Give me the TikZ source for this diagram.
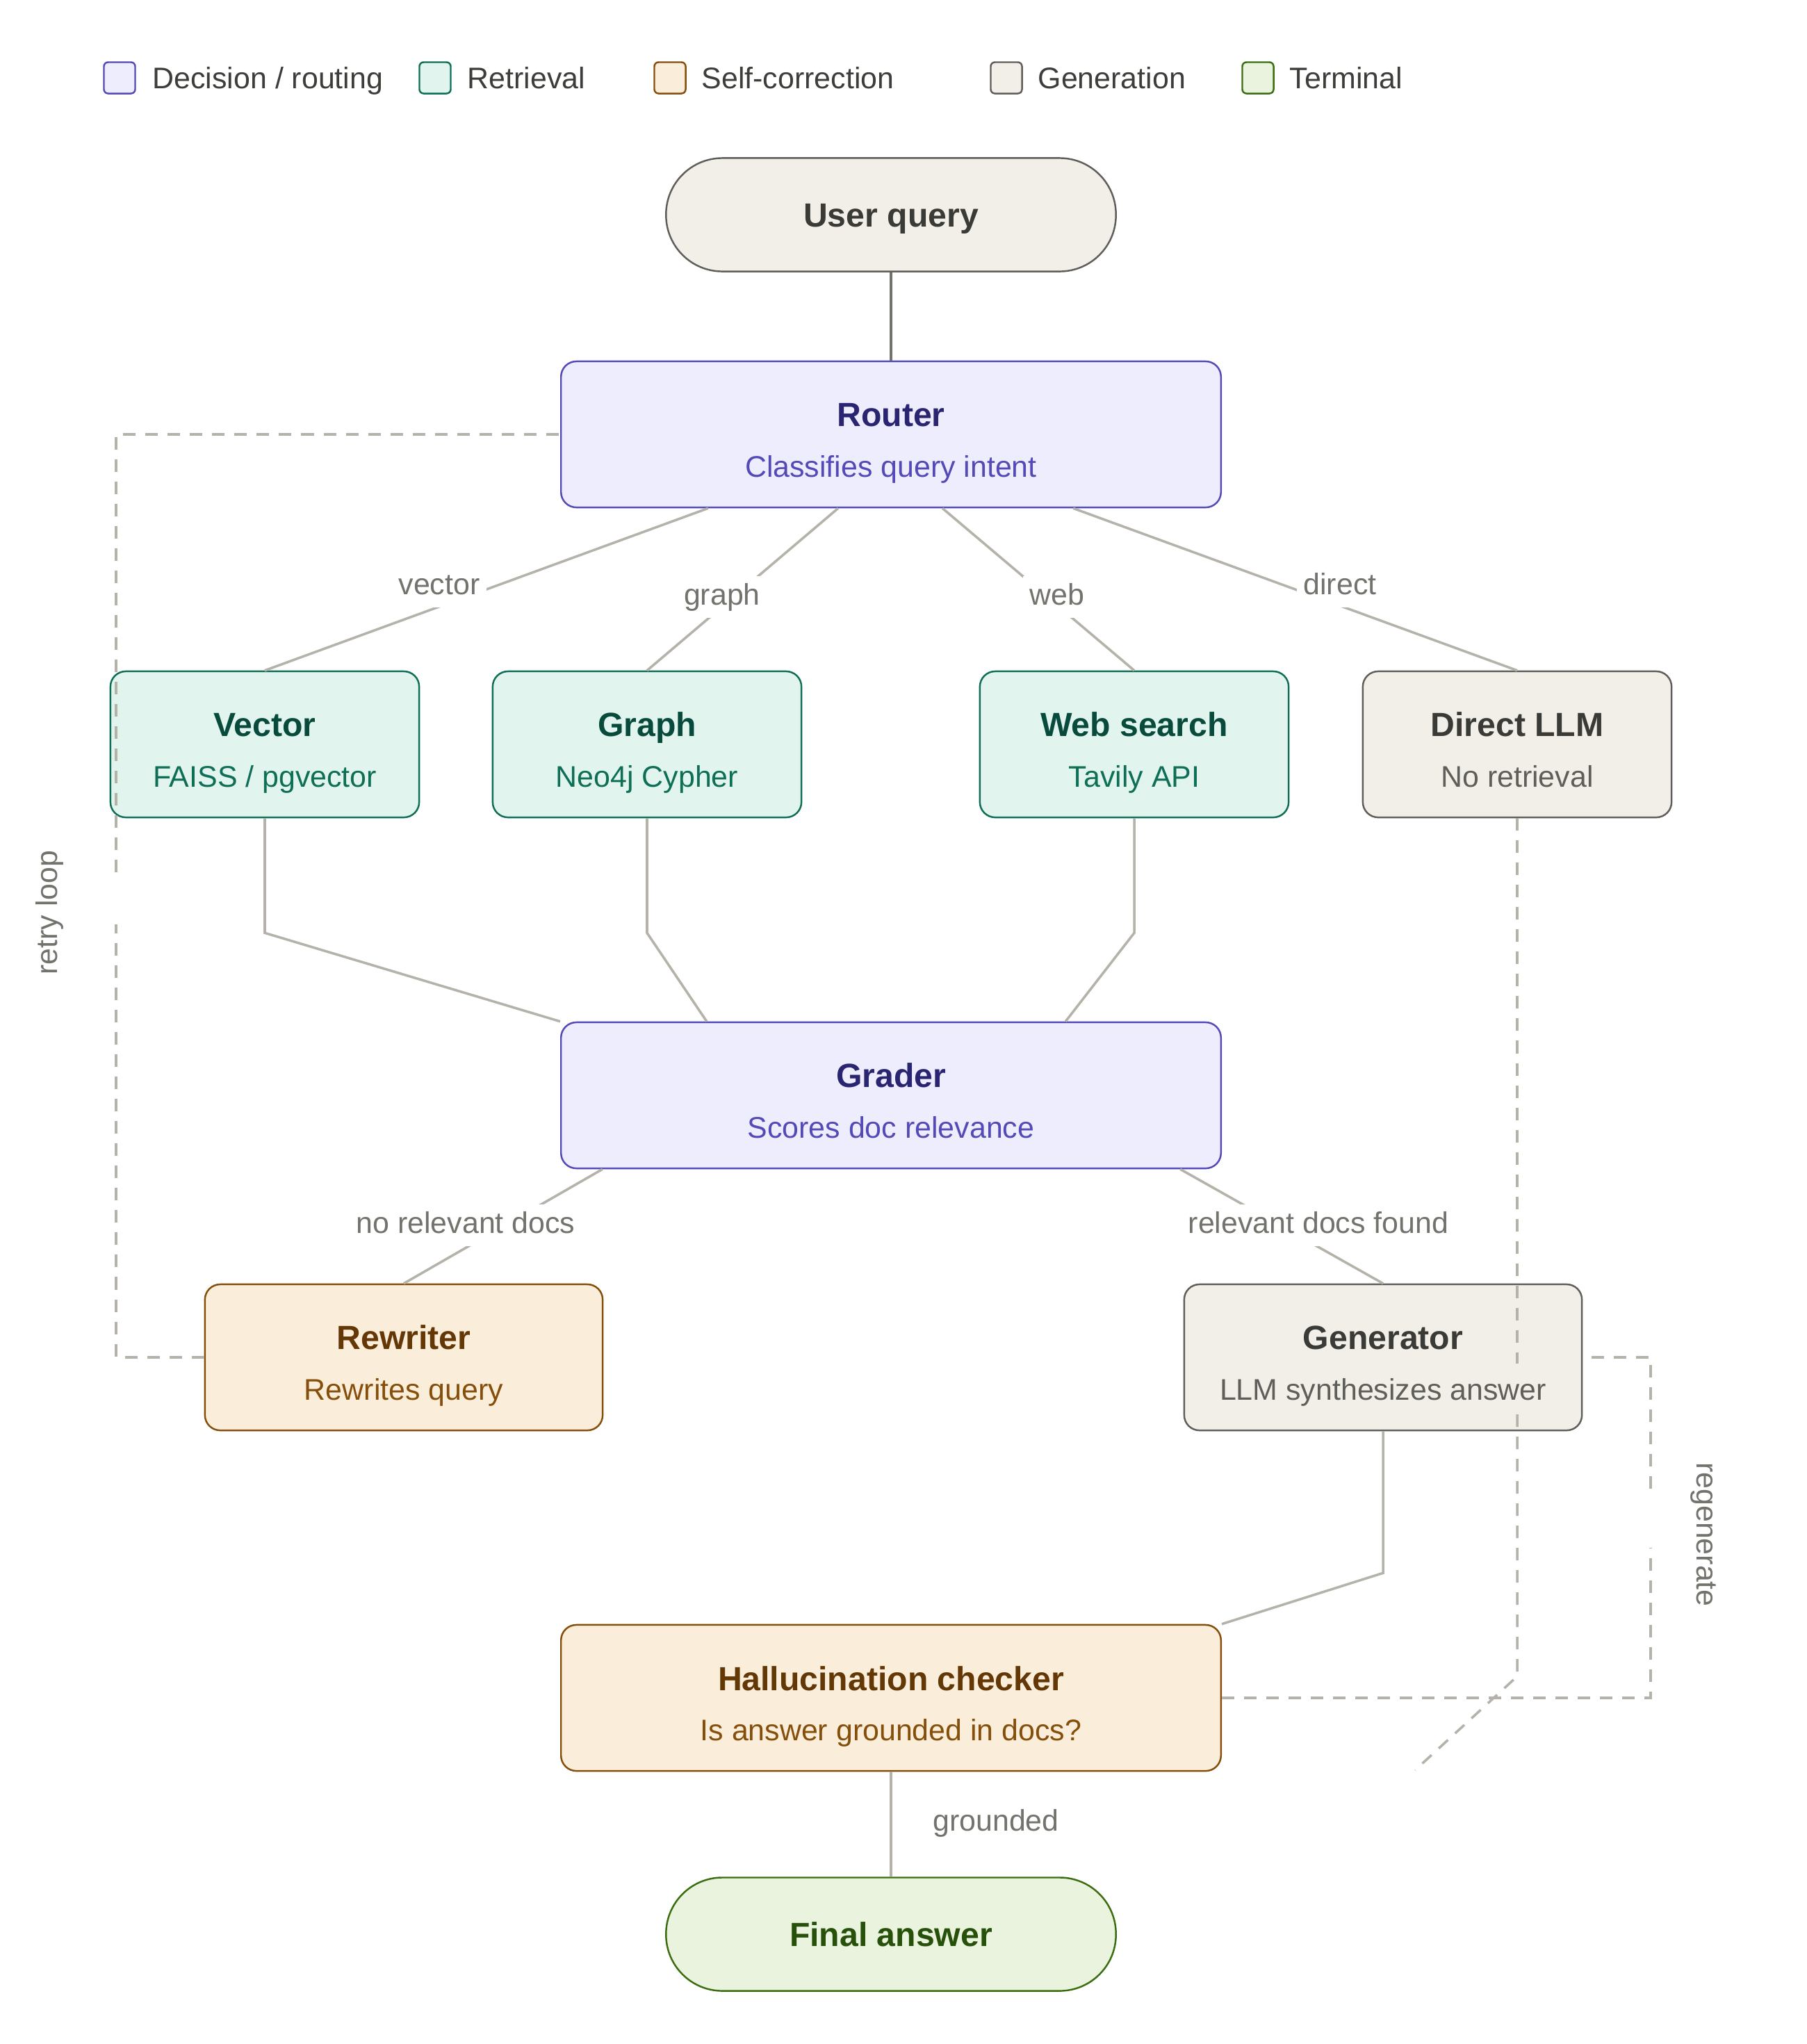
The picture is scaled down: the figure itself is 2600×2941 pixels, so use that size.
\documentclass[tikz,border=0pt]{standalone}
\usepackage{fontspec}
\setmainfont{Liberation Sans}
\usetikzlibrary{calc}
\definecolor{decF}{HTML}{EEEDFE}\definecolor{decL}{HTML}{534AB7}\definecolor{decT}{HTML}{2A2570}
\definecolor{retF}{HTML}{E1F5EE}\definecolor{retL}{HTML}{0F6E56}\definecolor{retT}{HTML}{084A3B}
\definecolor{selF}{HTML}{FAEEDA}\definecolor{selL}{HTML}{854F0B}\definecolor{selT}{HTML}{633806}
\definecolor{genF}{HTML}{F1EFE8}\definecolor{genL}{HTML}{5F5E5A}\definecolor{genT}{HTML}{3A3A37}
\definecolor{terF}{HTML}{EAF3DE}\definecolor{terL}{HTML}{3B6D11}\definecolor{terT}{HTML}{27500A}
\definecolor{edgeC}{HTML}{B4B2A9}\definecolor{edgeD}{HTML}{73726C}\definecolor{lblC}{HTML}{73726C}
\definecolor{legC}{HTML}{3D3D3A}
\newcommand\ttlfont{\fontsize{13.7pt}{20.5pt}\selectfont\bfseries}
\newcommand\bodyfnt{\fontsize{12.2pt}{20.5pt}\selectfont}
\newcommand\twoline[3]{{\color{#1}\ttlfont\rule{0pt}{0.62cm}#2}\\\rule[-0.12cm]{0pt}{0.12cm}#3}
\begin{document}
\begin{tikzpicture}[x=0.01cm,y=-0.01cm,
  box/.style={draw, rounded corners=0.22cm, line width=0.7pt, inner sep=0pt, align=center, font=\bodyfnt},
  pill/.style={draw, rounded corners=0.81cm, line width=0.7pt, inner sep=0pt, minimum width=6.47cm, minimum height=1.63cm, font=\ttlfont, text height=0.34cm, text depth=0cm},
  wide/.style={minimum width=9.49cm, minimum height=2.1cm},
  narrow/.style={minimum width=4.44cm, minimum height=2.1cm},
  medium/.style={minimum width=5.72cm, minimum height=2.1cm},
  dec/.style={box, fill=decF, draw=decL, text=decL},
  ret/.style={box, fill=retF, draw=retL, text=retL},
  sel/.style={box, fill=selF, draw=selL, text=selL},
  gen/.style={box, fill=genF, draw=genL, text=genL},
  legsq/.style={draw, rounded corners=0.06cm, line width=0.7pt, minimum size=0.45cm, inner sep=0pt},
  legtxt/.style={anchor=base west, inner sep=0pt, font=\bodyfnt, text=legC},
  conn/.style={draw=edgeC, line width=1pt},
  dashline/.style={draw=edgeC, line width=1pt, dash pattern=on 0.18cm off 0.14cm},
  lbl/.style={fill=white, text=lblC, font=\bodyfnt, inner sep=0.1cm, text height=0.31cm, text depth=0.09cm}
]
\useasboundingbox[fill=white] (0,0) rectangle (2600,2941);

% legend
\node[legsq, fill=decF, draw=decL] (lg1) at (172,112) {};
\node[legtxt] (lt1) at (219,127) {Decision / routing};
\node[legsq, fill=retF, draw=retL] (lg2) at (626,112) {};
\node[legtxt] (lt2) at (672,127) {Retrieval};
\node[legsq, fill=selF, draw=selL] (lg3) at (964,112) {};
\node[legtxt] (lt3) at (1009,127) {Self-correction};
\node[legsq, fill=genF, draw=genL] (lg4) at (1448,112) {};
\node[legtxt] (lt4) at (1493,127) {Generation};
\node[legsq, fill=terF, draw=terL] (lg5) at (1810,112) {};
\node[legtxt] (lt5) at (1855,127) {Terminal};

% nodes
\node[pill, fill=genF, draw=genL, text=genT] (uq) at (1282,309) {User query};
\node[dec, wide] (router) at (1282,625) {\twoline{decT}{Router}{Classifies query intent}};
\node[ret, narrow] (vector) at (381,1071) {\twoline{retT}{Vector}{FAISS / pgvector}};
\node[ret, narrow] (graph) at (931,1071) {\twoline{retT}{Graph}{Neo4j Cypher}};
\node[ret, narrow] (web) at (1632,1071) {\twoline{retT}{Web search}{Tavily API}};
\node[gen, narrow] (direct) at (2183,1071) {\twoline{genT}{Direct LLM}{No retrieval}};
\node[dec, wide] (grader) at (1282,1576) {\twoline{decT}{Grader}{Scores doc relevance}};
\node[sel, medium] (rewriter) at (581,1953) {\twoline{selT}{Rewriter}{Rewrites query}};
\node[gen, medium] (generator) at (1990,1953) {\twoline{genT}{Generator}{LLM synthesizes answer}};
\node[sel, wide] (halluc) at (1282,2443) {\twoline{selT}{Hallucination checker}{Is answer grounded in docs?}};
\node[pill, fill=terF, draw=terL, text=terT] (final) at (1282,2783) {Final answer};

% solid connectors
\draw[draw=edgeD, line width=1.3pt] (uq.south) -- (router.north);
\draw[conn] ([xshift=-2.63cm]router.south) -- (vector.north);
\draw[conn] ([xshift=-0.76cm]router.south) -- (graph.north);
\draw[conn] ([xshift=0.74cm]router.south) -- (web.north);
\draw[conn] ([xshift=2.62cm]router.south) -- (direct.north);
\draw[conn] (vector.south) -- ++(0,165) -- (grader.north west);
\draw[conn] (graph.south) -- ++(0,165) -- ([xshift=-2.65cm]grader.north);
\draw[conn] (web.south) -- ++(0,165) -- ([xshift=2.51cm]grader.north);
\draw[conn] ([xshift=-4.15cm]grader.south) -- (rewriter.north);
\draw[conn] ([xshift=4.16cm]grader.south) -- (generator.north);
\draw[conn] (generator.south) -- ++(0,204) -- (halluc.north east);
\draw[conn] (halluc.south) -- (final.north);

% dashed loops
\coordinate (rlA) at (167,1953);
\coordinate (rlB) at (167,1330);
\coordinate (rlC) at (167,1255);
\coordinate (rlD) at (167,625);
\draw[dashline] (rewriter.west) -- (rlA) -- (rlB);
\draw[dashline] (rlC) -- (rlD) -- (router.west);

\coordinate (rgA) at (2375,2443);
\coordinate (rgB) at (2375,2227);
\coordinate (rgC) at (2375,2142);
\coordinate (rgD) at (2375,1953);
\draw[dashline] (halluc.east) -- (rgA) -- (rgB);
\draw[dashline] (rgC) -- (rgD) -- (generator.east);

\coordinate (dlA) at (2183,1962);
\coordinate (dlB) at (2183,2035);
\coordinate (dlC) at (2183,2412);
\coordinate (dlD) at (2036,2547);
\draw[dashline] (direct.south) -- (dlA);
\draw[dashline] (dlB) -- (dlC) -- (dlD);

% edge labels
\node[lbl] (lvec) at (632,844) {vector};
\node[lbl] (lgra) at (1039,859) {graph};
\node[lbl] (lweb) at (1521,859) {web};
\node[lbl] (ldir) at (1928,844) {direct};
\node[lbl] (lnor) at (670,1763) {no relevant docs};
\node[lbl] (lrel) at (1897,1763) {relevant docs found};
\node[lbl, fill=none] (lgro) at (1433,2623) {grounded};
\node[lbl, fill=none, rotate=90] (lret) at (71,1313) {retry loop};
\node[lbl, fill=none, rotate=-90] (lreg) at (2452,2208) {regenerate};
\end{tikzpicture}
\end{document}
